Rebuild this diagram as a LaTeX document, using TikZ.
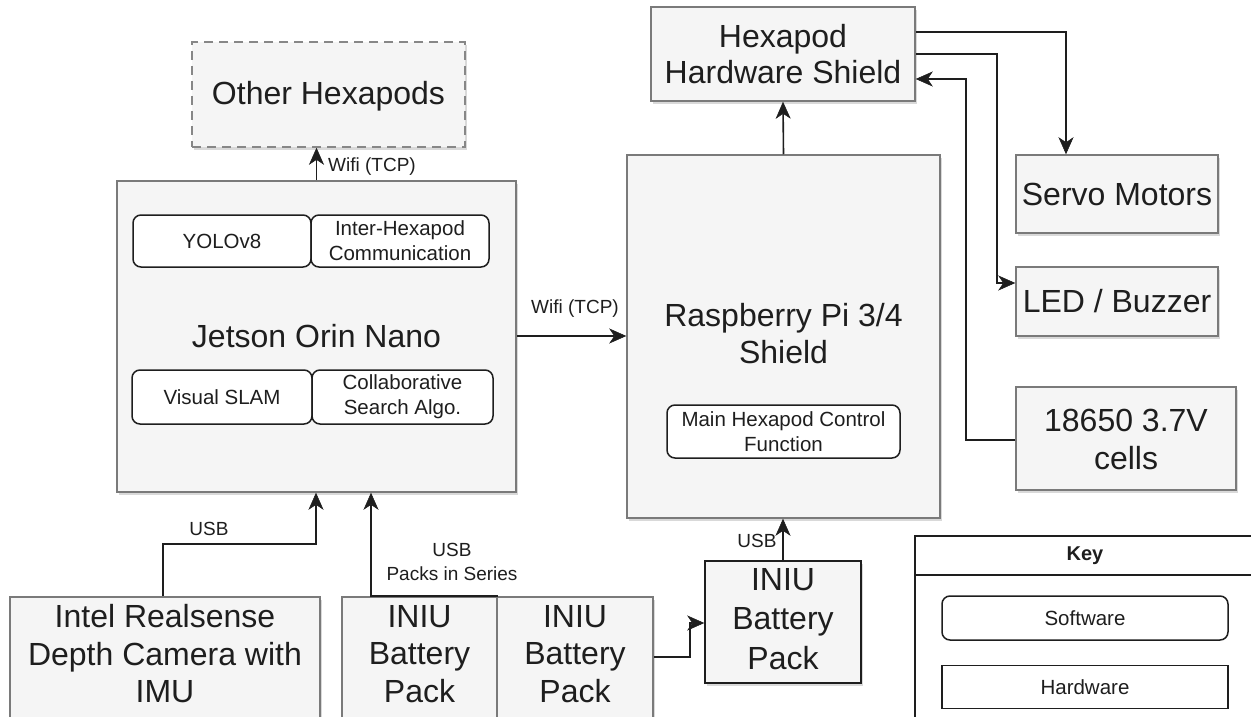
\documentclass[tikz,border=0pt]{standalone}
\usepackage{fontspec}
\setmainfont{Liberation Sans}
\usetikzlibrary{arrows.meta,shadows}
\definecolor{boxfill}{HTML}{F5F5F5}
\definecolor{boxline}{HTML}{7A7A7A}
\definecolor{txt}{HTML}{1E1E1E}
\begin{document}
\begin{tikzpicture}[x=1pt,y=-1pt,
  hw/.style={draw=boxline,fill=boxfill,line width=1.5pt,text=txt,align=center,inner sep=0pt,
    drop shadow={shadow xshift=2pt,shadow yshift=-3pt,fill=black,opacity=0.15}},
  big/.style={font=\fontsize{32}{36}\selectfont},
  bigtxt/.style={text=txt,align=center,inner sep=0pt,font=\fontsize{32}{37.5}\selectfont},
  sw/.style={draw=txt,fill=white,line width=1.5pt,rounded corners=8pt,text=txt,align=center,inner sep=0pt,
    font=\fontsize{20.5}{25}\selectfont},
  tipA/.tip={Stealth[length=17pt,width=15pt,inset=5pt,line width=0.5pt]},
  conn/.style={draw=txt,line width=1.6pt,-tipA},
  lbl/.style={text=txt,font=\fontsize{19}{24}\selectfont,inner sep=0pt,align=center},
]
\useasboundingbox (0,0) rectangle (1251,717);
\fill[white] (0,0) rectangle (1251,717);

% Nodes
\node[hw,dashed,dash pattern=on 9pt off 6pt,draw=boxline!90,minimum width=273pt,minimum height=105pt] (other) at (328.5,94.5) {};
\node[bigtxt] (othertext) at (328.5,96) {Other Hexapods};
\node[hw,big,minimum width=399pt,minimum height=311pt] (jetson) at (316.5,336.5) {Jetson Orin Nano};
\node[sw,minimum width=178pt,minimum height=52pt] (yolo) at (222,241) {YOLOv8};
\node[sw,minimum width=178pt,minimum height=52pt] (inter) at (400,241) {Inter-Hexapod\\Communication};
\node[sw,minimum width=180pt,minimum height=54pt] (slam) at (222,397) {Visual SLAM};
\node[sw,minimum width=181pt,minimum height=54pt] (collab) at (402.5,397) {Collaborative\\Search Algo.};

\node[hw,minimum width=313pt,minimum height=363pt] (rpi) at (783.5,336.5) {};
\node[bigtxt,font=\fontsize{32}{37}\selectfont] (rpitext) at (783.5,334) {Raspberry Pi 3/4\\Shield};
\node[sw,minimum width=233pt,minimum height=53pt] (mainctl) at (783.5,431.5) {Main Hexapod Control\\Function};

\node[hw,big,minimum width=264pt,minimum height=94pt] (hhs) at (783,54) {Hexapod\\Hardware Shield};
\node[hw,big,minimum width=202pt,minimum height=78pt] (servo) at (1117,194) {Servo Motors};
\node[hw,big,minimum width=202pt,minimum height=69pt] (led) at (1117,301.5) {LED / Buzzer};
\node[hw,minimum width=220pt,minimum height=103pt] (cells) at (1126,438.5) {};
\node[bigtxt,font=\fontsize{32}{38}\selectfont] (cellstext) at (1126,439) {18650 3.7V\\cells};

\node[hw,minimum width=310pt,minimum height=124pt] (intel) at (165,659) {};
\node[bigtxt] (inteltext) at (165,654) {Intel Realsense\\Depth Camera with\\IMU};
\node[hw,minimum width=155pt,minimum height=124pt] (iniu1) at (419.5,659) {};
\node[bigtxt] (iniu1text) at (419.5,654) {INIU\\Battery\\Pack};
\node[hw,minimum width=156pt,minimum height=124pt] (iniu2) at (575,659) {};
\node[bigtxt] (iniu2text) at (575,654) {INIU\\Battery\\Pack};
\node[hw,draw=txt,minimum width=156pt,minimum height=122pt] (iniu3) at (783,622) {};
\node[bigtxt,font=\fontsize{32}{39.5}\selectfont] (iniu3text) at (783,619) {INIU\\Battery\\Pack};

% Key
\node[draw=txt,fill=white,line width=1.5pt,minimum width=345pt,minimum height=184pt,inner sep=0pt] (key) at (1087.5,628) {};
\draw[txt,line width=1.5pt] (key.west |- 0,575) -- (key.east |- 0,575);
\node[lbl,font=\fontsize{20}{24}\selectfont\bfseries] (keytitle) at (1085,556) {Key};
\node[sw,fill=white,minimum width=286pt,minimum height=44pt] (ksw) at (1085,618) {Software};
\node[draw=txt,fill=white,line width=1.5pt,text=txt,inner sep=0pt,font=\fontsize{20.5}{25}\selectfont,minimum width=286pt,minimum height=43pt] (khw) at (1085,687) {Hardware};

% Connectors
\draw[conn] (jetson.north) -- (other.south -| jetson.north);
\node[lbl] (l1) at (372,167) {Wifi (TCP)};

\draw[conn] (jetson.east |- 0,336) -- (rpi.west |- 0,336);
\node[lbl] (l2) at (575,309) {Wifi (TCP)};

\draw[conn] (rpi.north) -- (hhs.south);

\draw[conn] (hhs.east |- 0,32) -| (servo.north -| 1066,0);
\draw[conn] (hhs.east |- 0,54) -| (997,283) -- (led.west |- 0,283);
\draw[conn] (cells.west |- 0,440) -| (966,79) -- (hhs.east |- 0,79);

\draw[conn] (intel.north -| 163,0) |- (316,544) -- (jetson.south -| 316,0);
\node[lbl] (l3) at (209,529) {USB};

\draw[conn] (iniu1.north east) -- (iniu1.north -| 371,0) -- (jetson.south -| 371,0);
\node[lbl] (l4) at (452,562) {USB\\Packs in Series};

\draw[conn] (iniu2.east |- 0,657) -| (690,623) -- (iniu3.west |- 0,623);

\draw[conn] (iniu3.north) -- (rpi.south -| iniu3.north);
\node[lbl] (l5) at (757,541) {USB};
\end{tikzpicture}
\end{document}
